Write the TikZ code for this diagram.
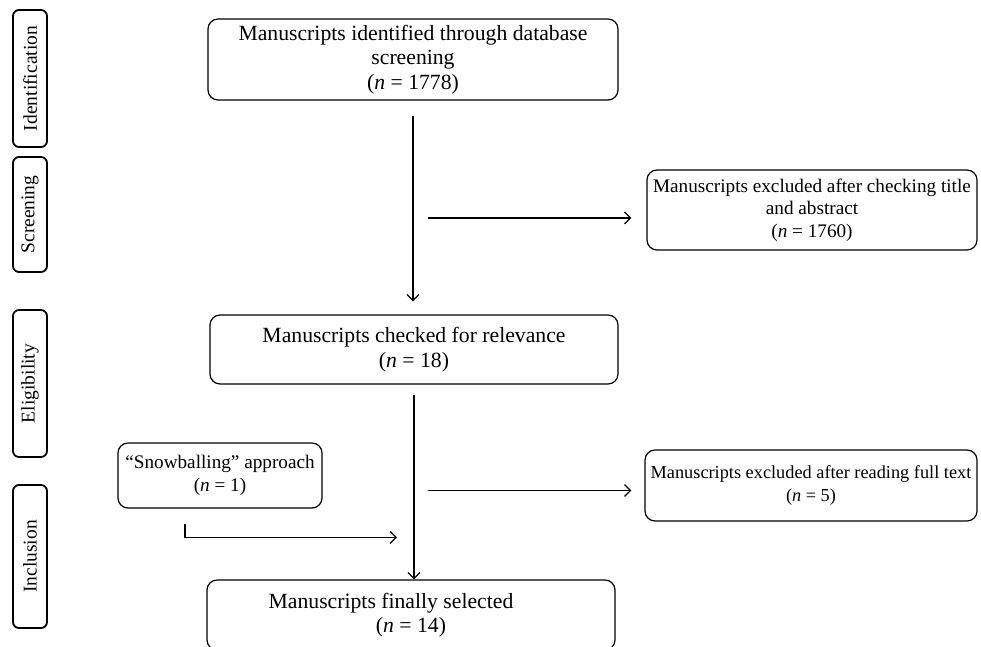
\documentclass[tikz,border=0pt]{standalone}
\usepackage{fontspec}
\setmainfont{Liberation Serif}
\usetikzlibrary{arrows.meta,calc}
\begin{document}
\begin{tikzpicture}[x=1pt,y=1pt,
  box/.style={draw, rounded corners=10pt, line width=1.2pt, align=center, inner sep=0pt},
  mainfont/.style={font=\fontsize{21.7}{24.5}\selectfont},
  sidefont/.style={font=\fontsize{19.2}{22.5}\selectfont},
  phase/.style={draw, rounded corners=6pt, line width=1.8pt, rotate=90, minimum height=34pt, inner sep=0pt, font=\fontsize{19.5}{22}\selectfont},
  arr/.style={-{Straight Barb[length=6pt,width=12pt]}, line width=1.2pt}]
\clip (0,0) rectangle (981,-646);

% phase labels
\node[phase, minimum width=137pt] (p1) at (30,-78.5) {Identification};
\node[phase, minimum width=115pt] (p2) at (30,-214.5) {Screening};
\node[phase, minimum width=147pt] (p3) at (30,-383.5) {Eligibility};
\node[phase, minimum width=143pt] (p4) at (30,-556.5) {Inclusion};

% main boxes
\node[box, mainfont, minimum width=410pt, minimum height=81pt] (A) at (413,-59.5)
  {Manuscripts identified through database\\screening\\(\textit{n} = 1778)};
\node[box, mainfont, minimum width=408pt, minimum height=69pt] (B) at (414,-349.5)
  {Manuscripts checked for relevance\\(\textit{n} = 18)};
\node[box, mainfont, minimum width=408pt, minimum height=70pt] (D) at (411,-615)
  {Manuscripts finally selected\hspace*{40pt}\\(\textit{n} = 14)};

% side boxes
\node[box, sidefont, minimum width=330pt, minimum height=80pt] (R1) at (812,-210)
  {Manuscripts excluded after checking title\\and abstract\\(\textit{n} = 1760)};
\node[box, font=\fontsize{18.3}{22.5}\selectfont, minimum width=332pt, minimum height=71pt] (R2) at (811,-485.5)
  {Manuscripts excluded after reading full text\\(\textit{n} = 5)};
\node[box, sidefont, minimum width=204pt, minimum height=65pt] (S) at (220,-475.5)
  {``Snowballing'' approach\\(\textit{n} = 1)};

% connectors
\draw[arr] ([yshift=-15pt]A.south) -- ([yshift=13pt]A.south |- B.north);
\draw[arr] ($(A.south |- R1.west)+(15,-8)$) -- ($(R1.west)+(-15,-8)$);
\draw[arr] ([yshift=-10pt]B.south) -- (B.south |- D.north);
\draw[arr] ($(B.south |- R2.west)+(14,-5)$) -- ($(R2.west)+(-13,-5)$);
\draw[arr] ([xshift=-35pt,yshift=-15pt]S.south) |- ([xshift=-14pt,yshift=42pt]D.north);
\end{tikzpicture}
\end{document}
